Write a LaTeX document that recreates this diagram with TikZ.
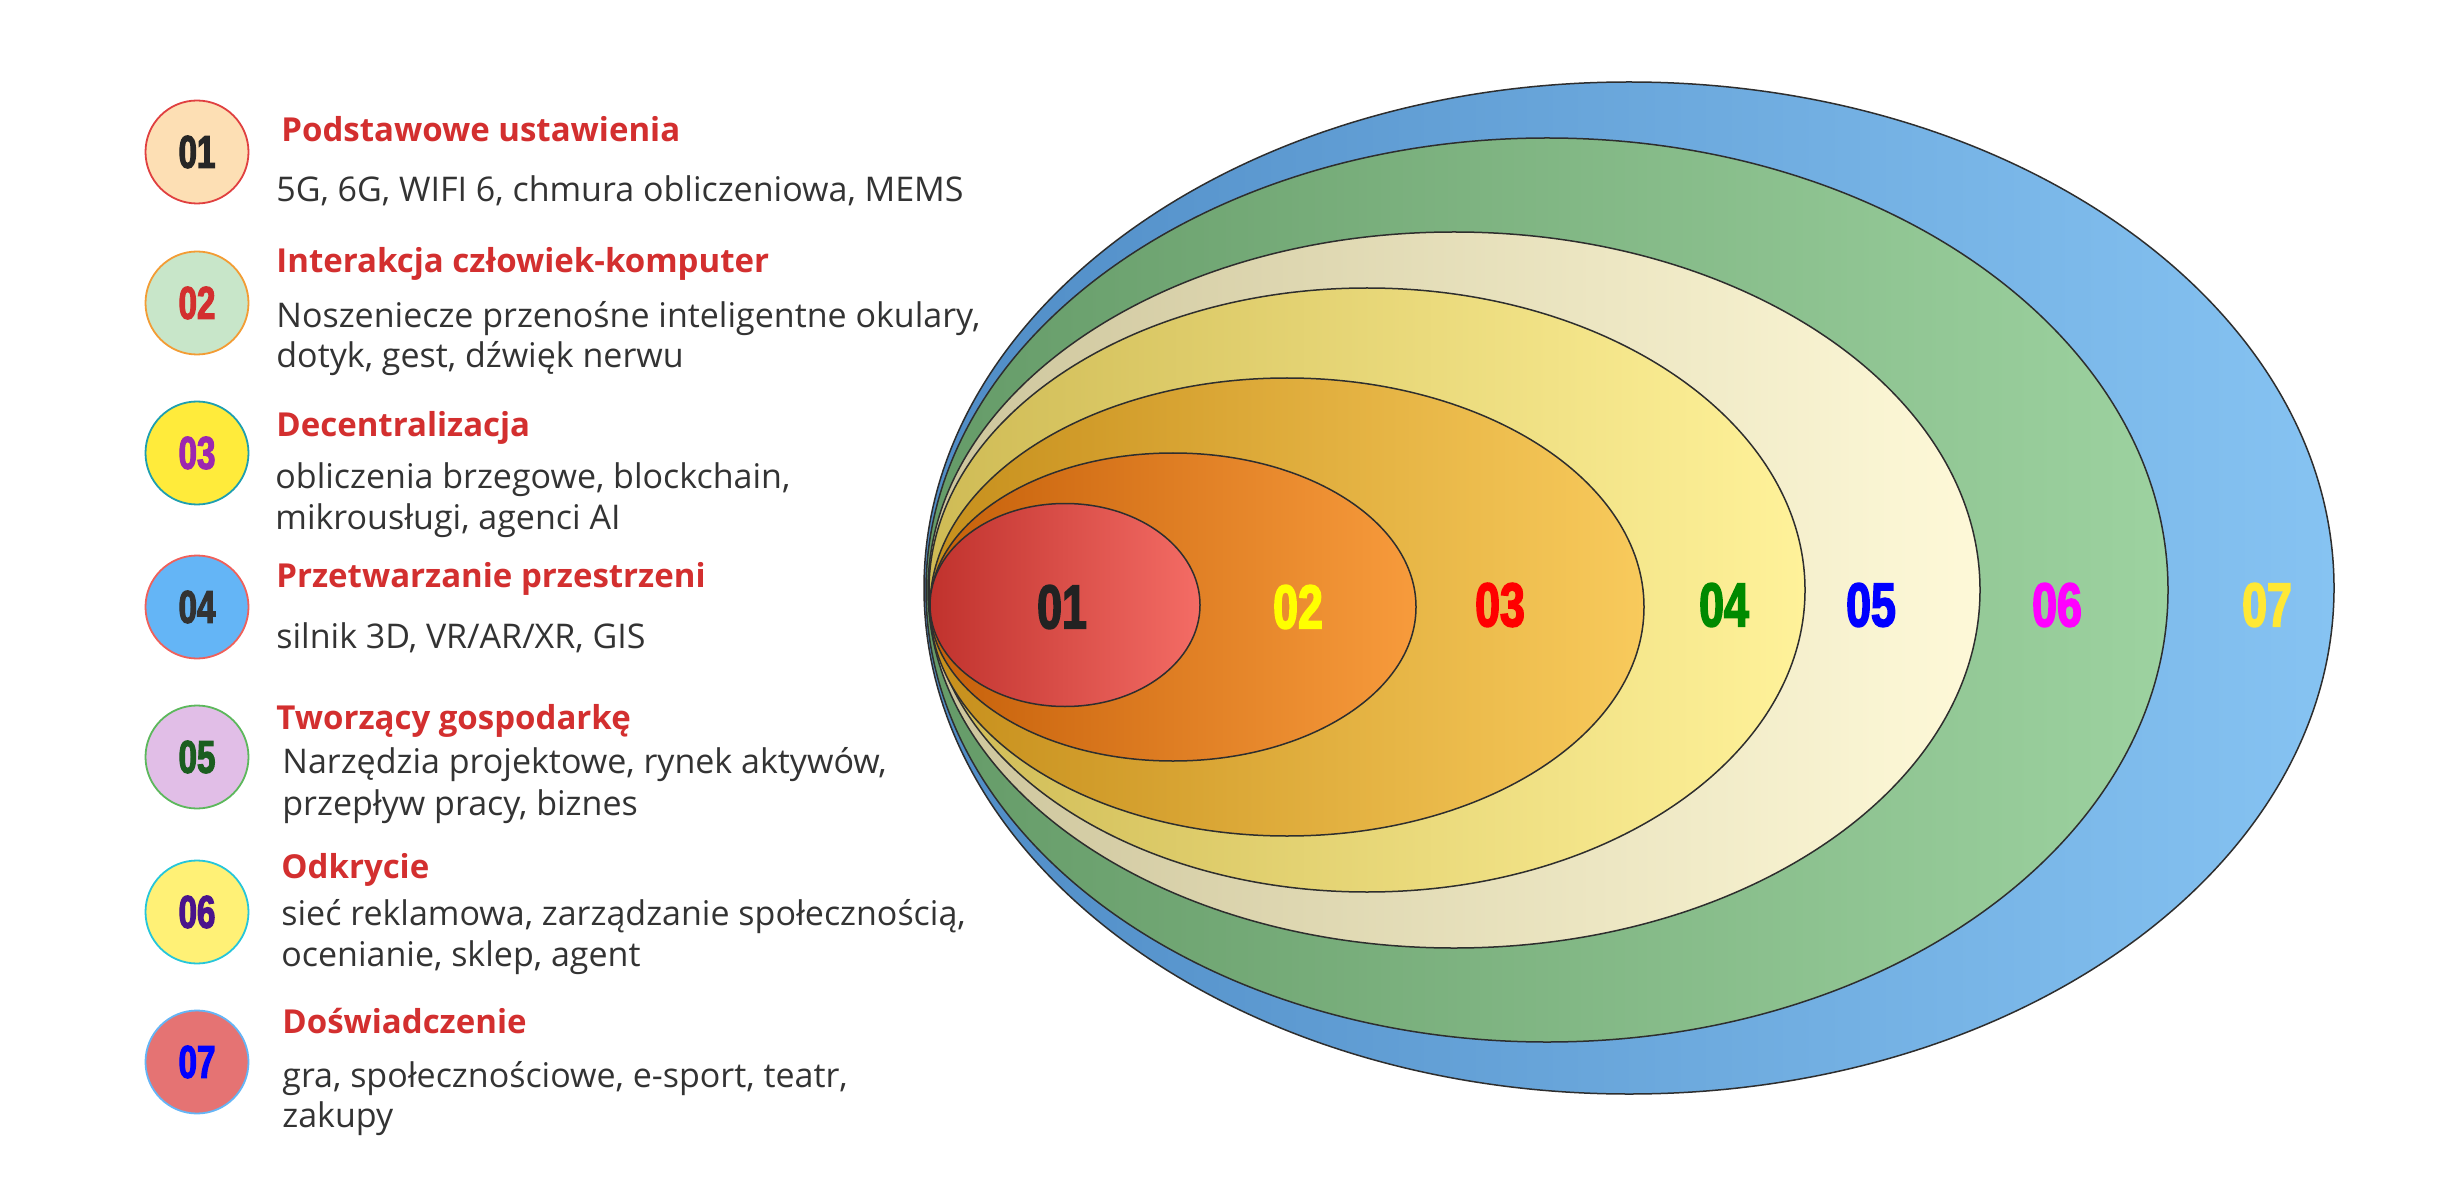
\documentclass[tikz,border=0pt]{standalone}
\usepackage{fontspec}
\setmainfont{Open Sans}
\newfontfamily\numfont{Liberation Sans}[FakeStretch=0.72, BoldFeatures={FakeBold=2.5}]
\usetikzlibrary{shapes.geometric}
% ellipse gradients
\definecolor{e7l}{HTML}{4F8CC6}\definecolor{e7r}{HTML}{86C3F2}
\definecolor{e6l}{HTML}{659B68}\definecolor{e6r}{HTML}{9DD2A0}
\definecolor{e5l}{HTML}{CDC59C}\definecolor{e5r}{HTML}{FEF9D8}
\definecolor{e4l}{HTML}{CFBB55}\definecolor{e4r}{HTML}{FFF29A}
\definecolor{e3l}{HTML}{C68F1C}\definecolor{e3r}{HTML}{F8CA5C}
\definecolor{e2l}{HTML}{C6600A}\definecolor{e2r}{HTML}{F79B3C}
\definecolor{e1l}{HTML}{C0322D}\definecolor{e1r}{HTML}{F46C65}
\definecolor{edgec}{HTML}{2E2E2E}
% labels
\definecolor{n1}{HTML}{222222}\definecolor{n2}{HTML}{FFFF00}
\definecolor{n3}{HTML}{FF0000}\definecolor{n4}{HTML}{008A00}
\definecolor{n5}{HTML}{0000FF}\definecolor{n6}{HTML}{FF00FF}
\definecolor{n7}{HTML}{FFE835}
% badges
\definecolor{b1f}{HTML}{FDDFB4}\definecolor{b1d}{HTML}{E04040}\definecolor{b1t}{HTML}{262626}
\definecolor{b2f}{HTML}{C8E6C9}\definecolor{b2d}{HTML}{F39C34}\definecolor{b2t}{HTML}{D32F2F}
\definecolor{b3f}{HTML}{FFEB3B}\definecolor{b3d}{HTML}{1E9FB0}\definecolor{b3t}{HTML}{9C27B0}
\definecolor{b4f}{HTML}{64B5F6}\definecolor{b4d}{HTML}{F0605A}\definecolor{b4t}{HTML}{333333}
\definecolor{b5f}{HTML}{E1BEE7}\definecolor{b5d}{HTML}{5CB85C}\definecolor{b5t}{HTML}{1B5E20}
\definecolor{b6f}{HTML}{FFF176}\definecolor{b6d}{HTML}{26C6DA}\definecolor{b6t}{HTML}{4A148C}
\definecolor{b7f}{HTML}{E57373}\definecolor{b7d}{HTML}{64B5F6}\definecolor{b7t}{HTML}{0000FF}
\definecolor{titlec}{HTML}{D32F2F}
\definecolor{bodyc}{HTML}{333333}
\begin{document}
\begin{tikzpicture}[x=0.5pt,y=-0.5pt,
  layer/.style={ellipse, draw=edgec, line width=0.75pt, inner sep=0pt},
  elab/.style={inner sep=0pt, font={\numfont\fontsize{31pt}{31pt}\selectfont\bfseries}},
  badge/.style={circle, minimum size=51.5pt, line width=0.9pt, inner sep=0pt,
    font={\numfont\fontsize{23pt}{23pt}\selectfont\bfseries}},
  ttl/.style={anchor=base west, inner sep=0pt, text=titlec, font={\fontsize{16.5pt}{20pt}\selectfont\bfseries}},
  txt/.style={anchor=base west, inner sep=0pt, text=bodyc, font={\fontsize{17pt}{20pt}\selectfont}}
]
\useasboundingbox[fill=white] (0,0) rectangle (2439,1197);
% nested ellipses
\node[layer, minimum width=705pt, minimum height=506pt, left color=e7l, right color=e7r] (e7) at (1629,588) {};
\node[layer, minimum width=621pt, minimum height=452pt, left color=e6l, right color=e6r] (e6) at (1547,590) {};
\node[layer, minimum width=526pt, minimum height=358pt, left color=e5l, right color=e5r] (e5) at (1454,590) {};
\node[layer, minimum width=438pt, minimum height=302pt, left color=e4l, right color=e4r] (e4) at (1367,590) {};
\node[layer, minimum width=357pt, minimum height=229pt, left color=e3l, right color=e3r] (e3) at (1287,607) {};
\node[layer, minimum width=243pt, minimum height=154pt, left color=e2l, right color=e2r] (e2) at (1173,607) {};
\node[layer, minimum width=135pt, minimum height=101.5pt, left color=e1l, right color=e1r] (e1) at (1065,605) {};
% ellipse labels
\node[elab, text=n1] (l1) at (1062,607) {01};
\node[elab, text=n2] (l2) at (1298,607) {02};
\node[elab, text=n3] (l3) at (1500,605) {03};
\node[elab, text=n4] (l4) at (1724,605) {04};
\node[elab, text=n5] (l5) at (1871,605) {05};
\node[elab, text=n6] (l6) at (2057,605) {06};
\node[elab, text=n7] (l7) at (2267,605) {07};
% badges
\node[badge, draw=b1d, fill=b1f, text=b1t] (c1) at (197,152) {01};
\node[badge, draw=b2d, fill=b2f, text=b2t] (c2) at (197,303) {02};
\node[badge, draw=b3d, fill=b3f, text=b3t] (c3) at (197,453) {03};
\node[badge, draw=b4d, fill=b4f, text=b4t] (c4) at (197,607) {04};
\node[badge, draw=b5d, fill=b5f, text=b5t] (c5) at (197,757) {05};
\node[badge, draw=b6d, fill=b6f, text=b6t] (c6) at (197,912) {06};
\node[badge, draw=b7d, fill=b7f, text=b7t] (c7) at (197,1062) {07};
% texts
\node[ttl] (t1) at (281,142) {Podstawowe ustawienia};
\node[txt] (b1a) at (276,202) {5G, 6G, WIFI 6, chmura obliczeniowa, MEMS};
\node[ttl] (t2) at (276,273) {Interakcja człowiek-komputer};
\node[txt] (b2a) at (276,328) {Noszeniecze przenośne inteligentne okulary,};
\node[txt] (b2b) at (276,368) {dotyk, gest, dźwięk nerwu};
\node[ttl] (t3) at (276,437) {Decentralizacja};
\node[txt] (b3a) at (275,488) {obliczenia brzegowe, blockchain,};
\node[txt] (b3b) at (275,529) {mikrousługi, agenci AI};
\node[ttl] (t4) at (276,587) {Przetwarzanie przestrzeni};
\node[txt] (b4a) at (276,648) {silnik 3D, VR/AR/XR, GIS};
\node[ttl] (t5) at (276,729) {Tworzący gospodarkę};
\node[txt] (b5a) at (282,773) {Narzędzia projektowe, rynek aktywów,};
\node[txt] (b5b) at (282,815) {przepływ pracy, biznes};
\node[ttl] (t6) at (281,878) {Odkrycie};
\node[txt] (b6a) at (281,925) {sieć reklamowa, zarządzanie społecznością,};
\node[txt] (b6b) at (281,966) {ocenianie, sklep, agent};
\node[ttl] (t7) at (282,1033) {Doświadczenie};
\node[txt] (b7a) at (282,1087) {gra, społecznościowe, e-sport, teatr,};
\node[txt] (b7b) at (282,1127) {zakupy};
\end{tikzpicture}
\end{document}
